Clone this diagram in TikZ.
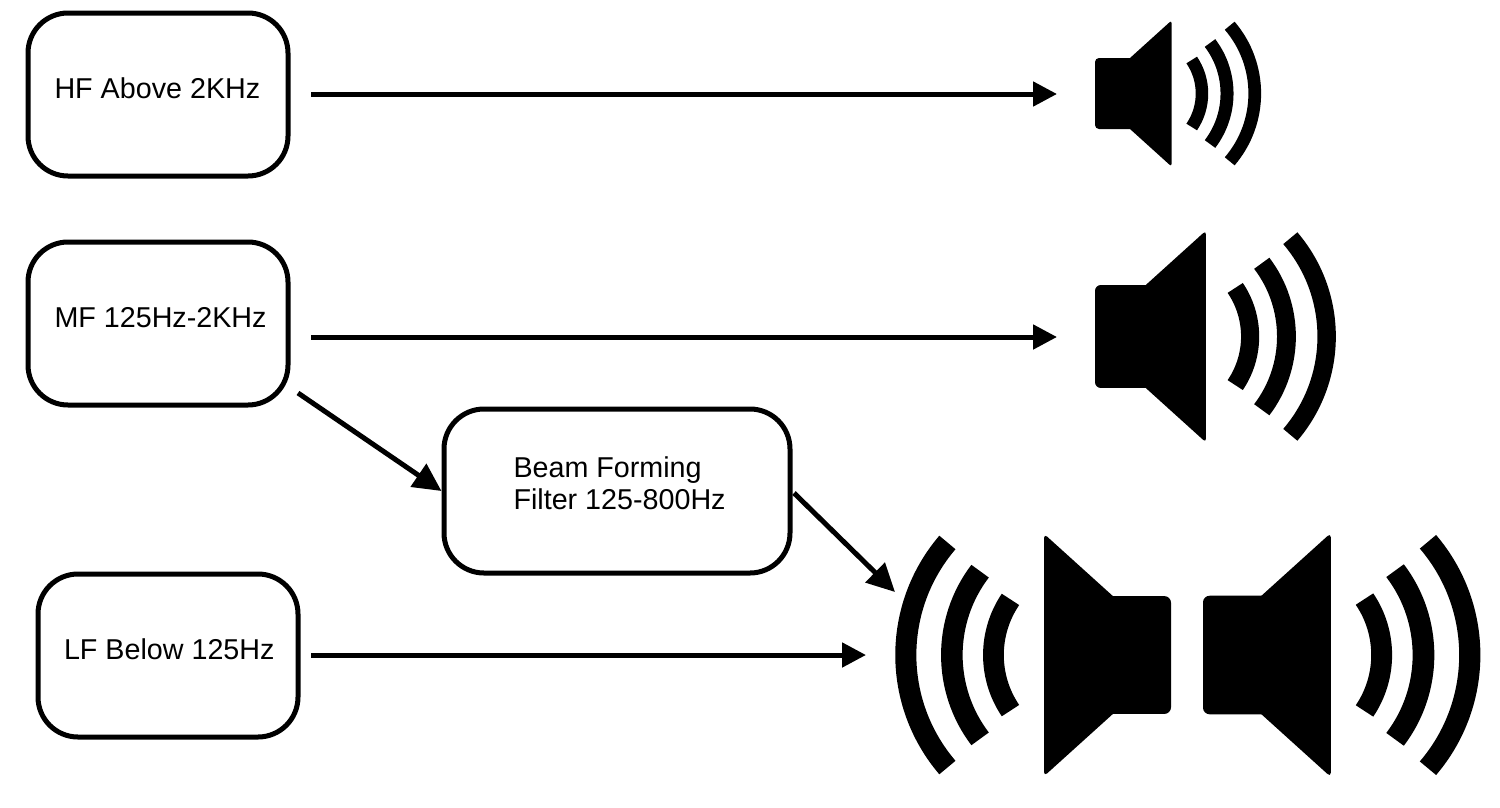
\documentclass[tikz,border=0pt]{standalone}
\usepackage{fontspec}
\setmainfont{Liberation Sans}
\usetikzlibrary{arrows.meta}
\tikzset{
  boxnode/.style={draw=black,line width=5pt,rounded corners=40pt,minimum width=260pt,minimum height=163pt,inner sep=0pt,fill=white},
  lbl/.style={anchor=base west,inner sep=0pt,outer sep=0pt,font=\fontsize{28.7}{32}\selectfont,align=left,text=black},
  conn/.style={draw=black,line width=5pt,-{Triangle[length=24pt,width=24pt]}},
  diag/.style={draw=black,line width=5pt,-{Triangle[length=28pt,width=27pt]}},
  wave/.style={draw=black,line cap=butt}
}
% origin x, origin y, scale, direction
\newcommand{\spk}[4]{%
  \begin{scope}[shift={(#1,#2)},xscale=#4*#3,yscale=#3]
    \fill[black,rounded corners=#3*4pt] (0,-35.5) rectangle (45,35.5);
    \fill[black] (35,-35.5) [rounded corners=#3*2.5pt] -- (76.5,-73) -- (76.5,73) [sharp corners] -- (35,35.5) -- cycle;
    \draw[wave,line width=#3*12.5pt] (96.7,-33.5) .. controls (110.4,-13.3) and (110.4,13.3) .. (96.7,33.5);
    \draw[wave,line width=#3*13pt] (115,-50.5) .. controls (137.7,-20.7) and (137.7,20.7) .. (115,50.5);
    \draw[wave,line width=#3*12.7pt] (134.7,-67.8) .. controls (168.1,-28.7) and (168.1,28.7) .. (134.7,67.8);
  \end{scope}%
}
\begin{document}
\begin{tikzpicture}[x=1pt,y=-1pt]
  \useasboundingbox (0,0) rectangle (1500,807);
  \fill[white] (0,0) rectangle (1500,807);

  \node[boxnode] (hf) at (158,94.5) {};
  \node[boxnode] (mf) at (158,323.5) {};
  \node[boxnode,minimum width=346pt,minimum height=164pt] (bf) at (617,491) {};
  \node[boxnode] (lf) at (168,655.5) {};

  \node[lbl] (hftext) at (54.5,98) {HF Above 2KHz};
  \node[lbl] (mftext) at (54.5,327) {MF 125Hz-2KHz};
  \node[lbl] (lftext) at (64,659) {LF Below 125Hz};
  \node[lbl] (bftext1) at (513.5,477) {Beam Forming};
  \node[lbl] (bftext2) at (513.5,509) {Filter 125-800Hz};

  \spk{1095}{93.5}{1}{1}
  \spk{1095}{336.5}{1.45}{1}
  \spk{1171}{655}{1.66}{-1}
  \spk{1203}{655}{1.67}{1}

  \coordinate (spkhf) at (1057,94);
  \coordinate (spkmf) at (1057,337);
  \coordinate (spklf) at (866,655);
  \coordinate (spkbf) at (895,592);

  \draw[conn] ([shift={(20.5,-0.5)}]hf.east) -- (spkhf);
  \draw[conn] ([shift={(20.5,13.5)}]mf.east) -- (spkmf);
  \draw[conn] ([shift={(10.5,-0.5)}]lf.east) -- (spklf);
  \draw[diag] ([shift={(7.5,69.5)}]mf.east) -- (bf.west);
  \draw[diag] ([shift={(1.5,2)}]bf.east) -- (spkbf);
\end{tikzpicture}
\end{document}
